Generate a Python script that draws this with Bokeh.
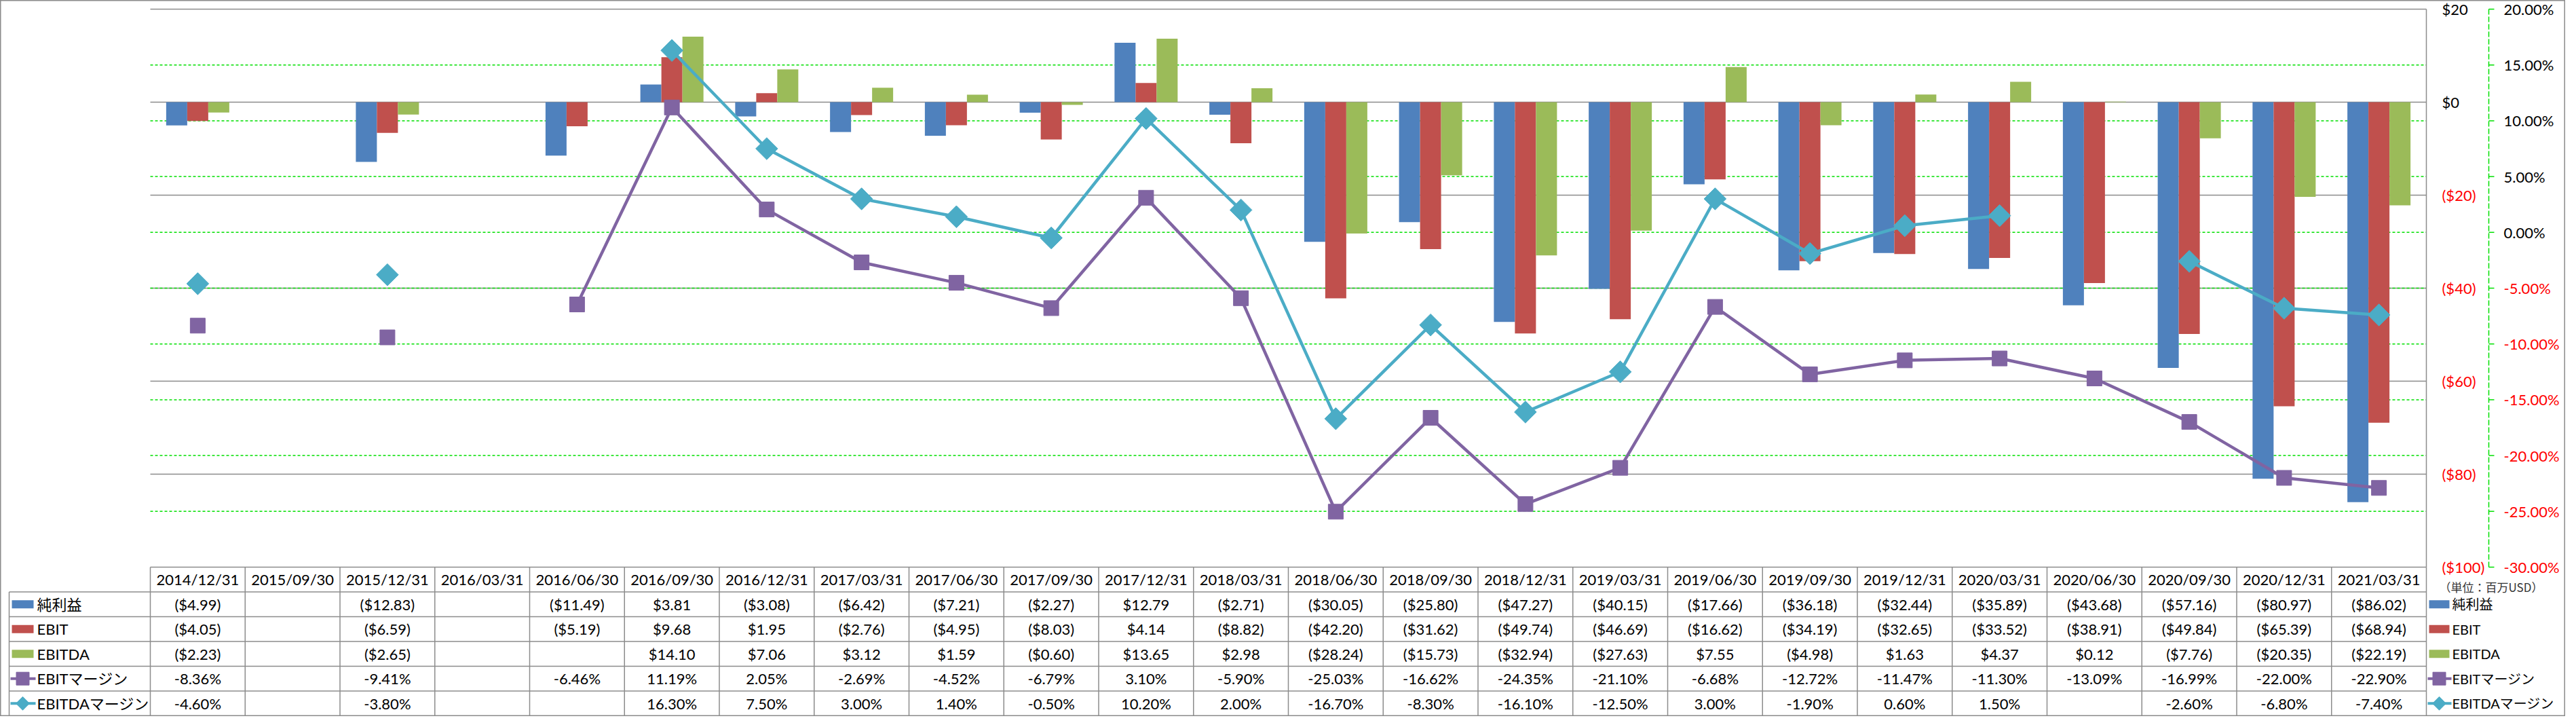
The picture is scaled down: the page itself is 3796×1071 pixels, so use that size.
import math
from bokeh.plotting import figure
from bokeh.models import ColumnDataSource, Range1d
from bokeh.core.properties import value
from bokeh.embed import file_html
from bokeh.resources import INLINE

nan = float("nan")

# ---------------- data ----------------
dates = ["2014/12/31", "2015/09/30", "2015/12/31", "2016/03/31", "2016/06/30", "2016/09/30",
         "2016/12/31", "2017/03/31", "2017/06/30", "2017/09/30", "2017/12/31", "2018/03/31",
         "2018/06/30", "2018/09/30", "2018/12/31", "2019/03/31", "2019/06/30", "2019/09/30",
         "2019/12/31", "2020/03/31", "2020/06/30", "2020/09/30", "2020/12/31", "2021/03/31"]
net_income = [-4.99, nan, -12.83, nan, -11.49, 3.81, -3.08, -6.42, -7.21, -2.27, 12.79, -2.71,
              -30.05, -25.80, -47.27, -40.15, -17.66, -36.18, -32.44, -35.89, -43.68, -57.16, -80.97, -86.02]
ebit = [-4.05, nan, -6.59, nan, -5.19, 9.68, 1.95, -2.76, -4.95, -8.03, 4.14, -8.82,
        -42.20, -31.62, -49.74, -46.69, -16.62, -34.19, -32.65, -33.52, -38.91, -49.84, -65.39, -68.94]
ebitda = [-2.23, nan, -2.65, nan, nan, 14.10, 7.06, 3.12, 1.59, -0.60, 13.65, 2.98,
          -28.24, -15.73, -32.94, -27.63, 7.55, -4.98, 1.63, 4.37, 0.12, -7.76, -20.35, -22.19]
ebit_margin = [-8.36, nan, -9.41, nan, -6.46, 11.19, 2.05, -2.69, -4.52, -6.79, 3.10, -5.90,
               -25.03, -16.62, -24.35, -21.10, -6.68, -12.72, -11.47, -11.30, -13.09, -16.99, -22.00, -22.90]
ebitda_margin = [-4.60, nan, -3.80, nan, nan, 16.30, 7.50, 3.00, 1.40, -0.50, 10.20, 2.00,
                 -16.70, -8.30, -16.10, -12.50, 3.00, -1.90, 0.60, 1.50, nan, -2.60, -6.80, -7.40]
usd_ticks = [20, 0, -20, -40, -60, -80, -100]
pct_ticks = [20, 15, 10, 5, 0, -5, -10, -15, -20, -25, -30]
series_names = ["純利益", "EBIT", "EBITDA", "EBITマージン", "EBITDAマージン"]
unit_label = "（単位：百万USD）"

# ---------------- styles / layout ----------------
C_BLUE, C_RED, C_GREEN = "#4F81BD", "#C0504D", "#9BBB59"
C_PURPLE, C_TEAL = "#8064A2", "#4BACC6"
GRAY = "#8c8c8c"
GRID_GREEN = "#00e000"
NEG_RED = "#ff0000"
FONT = value("Lato")
FONT_JP = value("Lato, Noto Sans CJK JP")
FS = "22px"

W, H = 3780, 1055
PLOT_L, PLOT_R = 221, 3575
PLOT_T, PLOT_B = 13, 835
ROW_H = 36.5
n = len(dates)
CAT = (PLOT_R - PLOT_L) / n


def X(px):
    return (px - PLOT_L) / CAT


usd_px = (PLOT_B - PLOT_T) / (usd_ticks[0] - usd_ticks[-1])
pct_px = (PLOT_B - PLOT_T) / (pct_ticks[0] - pct_ticks[-1])

p = figure(width=W, height=H, output_backend="svg", toolbar_location=None,
           x_range=Range1d(X(0), X(W)),
           y_range=Range1d(usd_ticks[0] - (H - PLOT_T) / usd_px, usd_ticks[0] + PLOT_T / usd_px),
           min_border=0, x_axis_location=None, y_axis_location=None)
p.extra_y_ranges = {
    "pct": Range1d(pct_ticks[0] - (H - PLOT_T) / pct_px, pct_ticks[0] + PLOT_T / pct_px),
    "tbl": Range1d((H - PLOT_B) / ROW_H, -PLOT_B / ROW_H),
}
p.xgrid.visible = False
p.ygrid.visible = False
p.outline_line_color = GRAY
p.outline_line_width = 2
p.background_fill_color = "white"
p.border_fill_color = "white"

# ---------------- gridlines ----------------
g_usd = usd_ticks[:-1]
p.segment(x0=[0] * len(g_usd), x1=[n] * len(g_usd), y0=g_usd, y1=g_usd,
          line_color=GRAY, line_width=1.5)
g_pct = pct_ticks[1:-1]
p.segment(x0=[0] * len(g_pct), x1=[n] * len(g_pct), y0=g_pct, y1=g_pct,
          line_color=GRID_GREEN, line_width=1.5, line_dash="4 3", y_range_name="pct")
# plot-area right edge
p.segment(x0=[n], x1=[n], y0=[usd_ticks[0]], y1=[usd_ticks[-1]], line_color=GRAY, line_width=1.5)

# ---------------- bars ----------------
xs = [i + 0.5 for i in range(n)]
bw = 31 / CAT
src = ColumnDataSource(dict(x=xs, ni=net_income, ebit=ebit, ebitda=ebitda,
                            em=ebit_margin, edm=ebitda_margin))
for off, col, c in [(-bw, "ni", C_BLUE), (0, "ebit", C_RED), (bw, "ebitda", C_GREEN)]:
    p.vbar(x=[v + off for v in xs], top=src.data[col], bottom=0, width=bw,
           fill_color=c, line_color=None)

# ---------------- margin lines ----------------
p.line(x="x", y="em", source=src, line_color=C_PURPLE, line_width=4.5, line_join="round",
       y_range_name="pct")
p.scatter(x="x", y="em", source=src, marker="square", size=22, fill_color=C_PURPLE,
          line_color=C_PURPLE, y_range_name="pct")
p.line(x="x", y="edm", source=src, line_color=C_TEAL, line_width=4.5, line_join="round",
       y_range_name="pct")
p.scatter(x="x", y="edm", source=src, marker="square", angle=math.pi / 4, size=23,
          fill_color=C_TEAL, line_color=C_TEAL, y_range_name="pct")

# ---------------- right axes (labels drawn through the scales) ----------------
def usd_fmt(v):
    return f"${v:.0f}" if v >= 0 else f"(${-v:.0f})"


p.text(x=[X(3598)] * len(usd_ticks), y=usd_ticks, text=[usd_fmt(v) for v in usd_ticks],
       text_color=["black" if v >= 0 else NEG_RED for v in usd_ticks],
       text_font=FONT, text_font_size=FS, text_align="left", text_baseline="middle")
p.segment(x0=[X(3667)], x1=[X(3667)], y0=[pct_ticks[0]], y1=[pct_ticks[-1]],
          line_color=GRID_GREEN, line_width=1.5, line_dash="8 3", y_range_name="pct")
p.segment(x0=[X(3667)] * len(pct_ticks), x1=[X(3675)] * len(pct_ticks), y0=pct_ticks, y1=pct_ticks,
          line_color=GRID_GREEN, line_width=1.5, y_range_name="pct")
p.text(x=[X(3689)] * len(pct_ticks), y=pct_ticks, text=[f"{v:.2f}%" for v in pct_ticks],
       text_color=["black" if v >= 0 else NEG_RED for v in pct_ticks],
       text_font=FONT, text_font_size=FS, text_align="left", text_baseline="middle",
       y_range_name="pct")

# ---------------- data table ----------------
rows = len(series_names)
x_tl = X(13)
p.segment(x0=[0], x1=[n], y0=[0], y1=[0], line_color=GRAY, line_width=1.5, y_range_name="tbl")
p.segment(x0=[x_tl] * rows, x1=[n] * rows, y0=list(range(1, rows + 2)), y1=list(range(1, rows + 2)),
          line_color=GRAY, line_width=1.5, y_range_name="tbl")
p.segment(x0=list(range(n + 1)), x1=list(range(n + 1)), y0=[0] * (n + 1), y1=[rows + 1] * (n + 1),
          line_color=GRAY, line_width=1.5, y_range_name="tbl")
p.segment(x0=[x_tl], x1=[x_tl], y0=[1], y1=[rows + 1], line_color=GRAY, line_width=1.5,
          y_range_name="tbl")

p.text(x=xs, y=[0.5] * n, text=dates, text_font=FONT, text_font_size=FS,
       text_align="center", text_baseline="middle", y_range_name="tbl")


def dol(v):
    if v != v:
        return ""
    return f"(${-v:.2f})" if v < 0 else f"${v:.2f}"


def pct(v):
    return "" if v != v else f"{v:.2f}%"


table_rows = [[dol(v) for v in net_income], [dol(v) for v in ebit], [dol(v) for v in ebitda],
              [pct(v) for v in ebit_margin], [pct(v) for v in ebitda_margin]]
for r, vals in enumerate(table_rows):
    p.text(x=xs, y=[r + 1.5] * n, text=vals, text_font=FONT, text_font_size=FS,
           text_align="center", text_baseline="middle", y_range_name="tbl")

# legend keys: left column of the table and right-hand legend
bar_colors = [C_BLUE, C_RED, C_GREEN]
for key_l, key_r, txt_x, fs in [(X(17), X(49), X(54), FS), (X(3579), X(3609), X(3613), "20px")]:
    kc = (key_l + key_r) / 2
    ry = [r + 1.5 for r in range(rows)]
    p.rect(x=[kc] * 3, y=ry[:3], width=key_r - key_l, height=12 / ROW_H,
           fill_color=bar_colors, line_color=None, y_range_name="tbl")
    p.segment(x0=[key_l - 2 / CAT] * 2, x1=[key_r + 3 / CAT] * 2, y0=ry[3:], y1=ry[3:],
              line_color=[C_PURPLE, C_TEAL], line_width=4, y_range_name="tbl")
    p.scatter(x=[kc], y=[ry[3]], marker="square", size=19, fill_color=C_PURPLE,
              line_color=C_PURPLE, y_range_name="tbl")
    p.scatter(x=[kc], y=[ry[4]], marker="square", angle=math.pi / 4, size=14,
              fill_color=C_TEAL, line_color=C_TEAL, y_range_name="tbl")
    p.text(x=[txt_x] * rows, y=ry, text=series_names, text_font=FONT_JP, text_font_size=fs,
           text_align="left", text_baseline="middle", y_range_name="tbl")

p.text(x=[X(3594)], y=[0.8], text=[unit_label], text_font=value("Noto Sans CJK JP"),
       text_font_size="17px", text_color="#333333", text_align="left", text_baseline="middle",
       y_range_name="tbl")

open("out.html", "w").write(file_html(p, INLINE))
